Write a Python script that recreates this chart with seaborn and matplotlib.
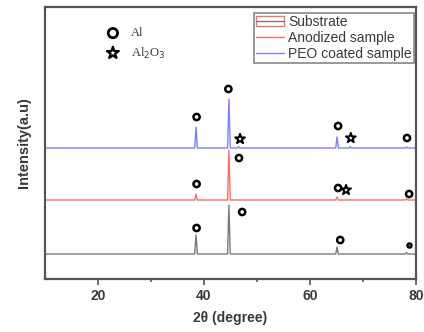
import matplotlib
matplotlib.use("Agg")
import matplotlib.pyplot as plt
from matplotlib.patches import Rectangle
from matplotlib.lines import Line2D
import seaborn as sns
import pandas as pd

# ---------------- data ----------------
series_names = ["Substrate", "Anodized sample", "PEO coated sample"]

sub_2theta = [10, 38.25, 38.5, 38.75, 44.45, 44.7, 44.95, 64.85, 65.1, 65.35, 77.95, 78.2, 78.45, 80]
sub_int    = [0, 0, 19, 0, 0, 49, 0, 0, 7, 0, 0, 1.5, 0, 0]

ano_2theta = [10, 38.25, 38.5, 38.75, 44.45, 44.7, 44.95, 64.85, 65.1, 65.35, 77.95, 78.2, 78.45, 80]
ano_int    = [0, 0, 6, 0, 0, 50, 0, 0, 3, 0, 0, 1, 0, 0]

peo_2theta = [10, 38.25, 38.5, 38.75, 44.45, 44.7, 44.95, 46.3, 46.5, 46.7,
              64.85, 65.1, 65.35, 67.4, 67.6, 67.8, 77.95, 78.2, 78.45, 80]
peo_int    = [0, 0, 21, 0, 0, 49, 0, 0, 1.5, 0,
              0, 11, 0, 0, 1.5, 0, 0, 1, 0, 0]

# phase markers: (2theta, height) for each pattern
sub_al_x = [38.6, 47.2, 65.7]
sub_al_y = [51, 67, 39]
sub_al_small_x = [78.7]
sub_al_small_y = [34]
ano_al_x = [38.6, 46.6, 65.3, 78.7]
ano_al_y = [95, 121, 91, 85]
ano_ox_x = [66.8]
ano_ox_y = [89]
peo_al_x = [38.6, 44.6, 65.3, 78.3]
peo_al_y = [162, 190, 153, 141]
peo_ox_x = [46.8, 67.7]
peo_ox_y = [140, 141]

phase_labels = ["Al", "Al$_2$O$_3$"]
x_ticks = [20, 40, 60, 80]

# ---------------- styling ----------------
offsets = [25, 79, 131]
colors = ["#7a7a7a", "#ff6a6a", "#8080ff"]
frame_col = "#555555"
text_col = "#3a3a3a"

sns.set_style("ticks")
plt.rcParams["font.family"] = ["Liberation Sans", "DejaVu Sans"]

fig = plt.figure(figsize=(4.24, 3.32), dpi=100)
ax = fig.add_axes([45 / 424, 1 - 279 / 332, 371 / 424, 272 / 332])

frames = []
for name, xs, ys, off in zip(series_names,
                             [sub_2theta, ano_2theta, peo_2theta],
                             [sub_int, ano_int, peo_int], offsets):
    frames.append(pd.DataFrame({"2theta": xs, "I": [v + off for v in ys], "sample": name}))
df = pd.concat(frames, ignore_index=True)

sns.lineplot(data=df, x="2theta", y="I", hue="sample", hue_order=series_names,
             palette=colors, linewidth=1.0, ax=ax, legend=False, estimator=None,
             sort=False)

circ = dict(marker="o", s=20, facecolors="none", edgecolors="black", linewidths=1.8, zorder=5)
star = dict(marker="*", s=55, facecolors="none", edgecolors="black", linewidths=1.4, zorder=5)
ax.scatter(sub_al_x, sub_al_y, **circ)
ax.scatter(sub_al_small_x, sub_al_small_y, marker="o", s=12, facecolors="#333333",
           edgecolors="black", linewidths=1.2, zorder=5)
ax.scatter(ano_al_x, ano_al_y, **circ)
ax.scatter(ano_ox_x, ano_ox_y, **star)
ax.scatter(peo_al_x, peo_al_y, **circ)
ax.scatter(peo_ox_x, peo_ox_y, **star)

# phase key
ax.scatter([0.183], [0.904], transform=ax.transAxes, marker="o", s=45,
           facecolors="none", edgecolors="black", linewidths=2.0, clip_on=False)
ax.scatter([0.183], [0.831], transform=ax.transAxes, marker="*", s=80,
           facecolors="none", edgecolors="black", linewidths=1.6, clip_on=False)
for lab, yy in zip(phase_labels, [0.904, 0.831]):
    ax.text(0.232, yy, lab, transform=ax.transAxes, va="center", ha="left",
            fontsize=9, family=["Liberation Serif", "DejaVu Serif"], color=text_col)

ax.set_xlim(10, 80)
ax.set_ylim(0, 272)
ax.set_xticks(x_ticks)
ax.set_xticks([30, 50, 70], minor=True)
ax.set_yticks([])
ax.tick_params(axis="x", which="both", direction="out", color=frame_col, width=1.2)
ax.tick_params(axis="x", which="major", length=4, labelsize=10, labelcolor=text_col, pad=3)
ax.tick_params(axis="x", which="minor", length=2.5)
for lbl in ax.get_xticklabels():
    lbl.set_fontweight("bold")
for sp in ax.spines.values():
    sp.set_visible(True)
    sp.set_color(frame_col)
    sp.set_linewidth(1.6)

ax.set_xlabel("2θ (degree)", fontsize=10, fontweight="bold", color=text_col, labelpad=6)
ax.set_ylabel("Intensity(a.u)", fontsize=10.5, fontweight="bold", color=text_col, labelpad=10)

h_sub = (Rectangle((0, 0), 1, 1, facecolor="none", edgecolor="#ff7070", linewidth=1.0),
         Line2D([], [], color=colors[0], linewidth=1.0))
h_ano = Line2D([], [], color=colors[1], linewidth=1.0)
h_peo = Line2D([], [], color=colors[2], linewidth=1.0)
leg = ax.legend([h_sub, h_ano, h_peo], series_names, loc="upper right",
                bbox_to_anchor=(0.995, 0.978),
                fontsize=10, frameon=True, fancybox=False, edgecolor="#6a6a6a",
                borderaxespad=0.0, labelspacing=0.15, handlelength=2.0,
                handletextpad=0.35, borderpad=0.15)
leg.get_frame().set_linewidth(1.2)
for t in leg.get_texts():
    t.set_color(text_col)

fig.savefig("out.png", dpi=100)
